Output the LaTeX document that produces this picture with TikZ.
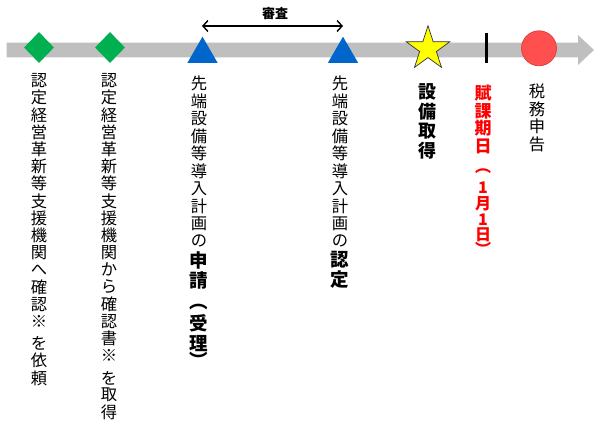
\documentclass[tikz,border=0pt]{standalone}
\usepackage{fontspec}
\newfontfamily\cjk{Noto Sans CJK JP}
\usetikzlibrary{arrows.meta,shapes.geometric}
\definecolor{bargray}{HTML}{BFBFBF}
\definecolor{dgreen}{HTML}{00B050}
\definecolor{tblue}{HTML}{0066CC}
\definecolor{sunyellow}{HTML}{FFFF00}
\definecolor{cred}{HTML}{FF4F4F}
\definecolor{credline}{HTML}{E03A3A}
\definecolor{tred}{HTML}{FF0000}
\newlength\vpitch
\newcommand\vchar[1]{\hbox to 26pt{\hss\vbox to\vpitch{\vss\hbox{#1}\vss}\hss}}
\def\vstr#1{\vstrloop#1\relax}
\def\vstrloop#1{\ifx\relax#1\else\vchar{#1}\expandafter\vstrloop\fi}
\newcommand\rfont{\cjk\mdseries\fontsize{16.3}{18}\selectfont}
\newcommand\bfont[1]{\cjk\bfseries\fontsize{#1}{#1}\selectfont}
\begin{document}
\begin{tikzpicture}[x=1pt,y=-1pt,
  vcol/.style={anchor=north,inner sep=0pt,outer sep=0pt},
  gem/.style={diamond,fill=dgreen,inner sep=0pt,minimum width=30pt,minimum height=31pt},
  tri/.style={regular polygon,regular polygon sides=3,fill=tblue,inner sep=0pt,minimum size=35pt},
]
\useasboundingbox (0,0) rectangle (600,430);
\fill[white] (0,0) rectangle (600,430);
% timeline bar
\fill[bargray] (6.7,42.7) -- (578,42.7) -- (578,35) -- (594,50) -- (578,65)
  -- (578,57.3) -- (6.7,57.3) -- cycle;
% markers
\node[gem] (d1) at (39,47.5) {};
\node[gem] (d2) at (110,47.5) {};
\node[tri] (t1) at (202.5,54.2) {};
\node[tri] (t2) at (343,54.2) {};
\node[star,star points=5,star point ratio=2.618,minimum size=46pt,inner sep=0pt,
  fill=sunyellow,draw=black!80,line width=0.7pt] (st) at (428,48.8) {};
\draw[line width=3pt] (486,32.7) -- (486,62.7);
\node[circle,minimum size=35pt,inner sep=0pt,fill=cred,draw=credline,line width=0.7pt] (rc) at (539,48.3) {};
% review arrow
\coordinate (a1) at (202,26);
\coordinate (a2) at (343,26);
\draw[line width=1.4pt,{Straight Barb[length=5pt,width=11pt]}-{Straight Barb[length=5pt,width=11pt]}] (a1) -- (a2);
\node[inner sep=0pt] (rev) at (275,14) {\bfont{13}審査};
% vertical texts
\node[vcol] (c1) at (39,71.9) {\vbox{\offinterlineskip\rfont\vpitch=17.2pt
  \vstr{認定経営革新等支援機関へ確認※}\vskip5pt\vstr{を依頼}}};
\node[vcol] (c2) at (109,71.9) {\vbox{\offinterlineskip\rfont\vpitch=17.2pt
  \vstr{認定経営革新等支援機関から確認書※}\vskip5pt\vstr{を取得}}};
\node[vcol] (c3) at (199,75) {\vbox{\offinterlineskip\rfont\vpitch=17.5pt
  \vstr{先端設備等導入計画の}\bfont{18.5}\vpitch=20pt\vstr{申請}\vskip11pt
  \vpitch=13pt\vstr{︵}\vpitch=19.5pt\vstr{受理}\vskip2pt\vpitch=10pt\vstr{︶}}};
\node[vcol] (c4) at (340,75) {\vbox{\offinterlineskip\rfont\vpitch=17.5pt
  \vstr{先端設備等導入計画の}\bfont{18.5}\vpitch=20pt\vstr{認定}}};
\node[vcol] (c5) at (427,82) {\vbox{\offinterlineskip\bfont{18}\vpitch=19.5pt
  \vstr{設備取得}}};
\node[vcol,text=tred] (c6) at (483,84.75) {\vbox{\offinterlineskip\bfont{17}\vpitch=17.5pt
  \vstr{賦課期日}\vskip8.25pt\bfont{16}\vpitch=16.75pt\vstr{︵}\vpitch=16pt\vstr{1月1}
  \vpitch=13.5pt\vstr{日}\vskip2pt\vpitch=11.5pt\vstr{︶}}};
\node[vcol] (c7) at (537,83) {\vbox{\offinterlineskip\rfont\vpitch=17.5pt
  \vstr{税務申告}}};
\end{tikzpicture}
\end{document}
